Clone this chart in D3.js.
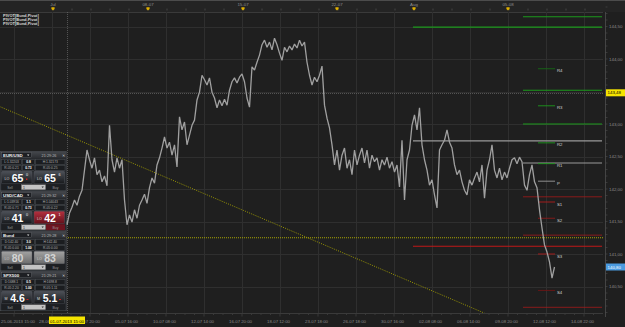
<!DOCTYPE html>
<html><head><meta charset="utf-8">
<script src="https://cdn.jsdelivr.net/npm/d3@7"></script>
<style>html,body{margin:0;padding:0;background:#1f1f1f;overflow:hidden}svg{display:block;font-family:"Liberation Sans",Arial,sans-serif}</style>
</head><body><svg id="c" width="625" height="327"></svg>
<script>
// ---------------- DATA ----------------
const prices = [141.49,141.55,141.45,141.63,141.72,141.83,141.75,141.89,141.98,142.29,
142.60,142.45,142.32,142.48,142.22,142.29,142.11,142.20,142.05,142.98,
142.45,142.26,142.48,142.32,142.45,141.83,141.45,141.60,141.49,141.68,
141.55,141.75,141.83,141.92,141.78,142.02,142.17,142.09,142.37,142.48,
142.63,142.80,142.63,142.72,142.52,142.68,142.34,143.11,142.91,143.03,
142.68,142.83,142.98,143.06,143.37,143.49,143.75,143.68,143.60,143.71,
143.49,143.40,143.25,143.37,143.28,143.38,143.29,143.52,143.65,143.71,
143.63,143.72,143.77,143.65,143.40,143.26,143.88,143.83,143.95,144.06,
144.22,144.29,144.18,144.26,144.14,144.32,144.22,144.09,143.98,144.18,
144.11,144.20,144.14,144.23,144.17,144.29,144.20,144.26,143.95,143.75,
143.60,143.72,143.65,143.75,143.89,143.29,143.09,142.94,142.68,142.37,
142.60,142.29,142.52,142.63,142.32,142.45,142.22,142.60,142.37,142.52,
142.63,142.40,142.60,142.32,142.52,142.42,142.48,142.29,142.45,142.37,
142.49,142.32,142.42,142.26,142.37,142.03,142.75,141.83,142.45,142.60,
142.98,143.14,142.91,143.25,142.68,142.45,142.29,142.06,142.14,141.91,
141.71,142.60,142.68,142.75,142.91,142.72,142.63,142.37,142.22,142.29,
142.11,141.98,141.91,142.14,142.06,142.17,142.26,142.11,142.37,141.86,
142.29,142.45,142.68,142.29,142.17,142.32,142.14,142.26,142.17,142.32,
142.45,142.48,142.39,142.49,142.42,142.06,141.98,142.22,142.37,142.11,
142.02,141.68,141.40,141.14,141.03,140.88,140.63,140.80];

const priceTicks = [144.5,144.0,143.5,143.0,142.5,142.0,141.5,141.0,140.5];
const gridBars = [-19.2,-4,11.2,26.4,41.6,56.8,72,87.2,102.4,117.6,132.8,148,163.2,178.4,193.6,208.8];
const bottomLabels = ["25-06-2013 15:00","28-06 20:00","02-07 20:00","05-07 16:00","10-07 08:00","12-07 14:00","16-07 20:00","18-07 12:00","23-07 18:00","26-07 18:00","30-07 16:00","02-08 08:00","06-08 14:00","09-08 20:00","12-08 12:00","14-08 22:00"];
const topLabels = ["Jul","08-07","15-07","22-07","Aug","05-08"];
const topLabelBars = [-3.6,34.4,72.4,110,140.8,178.4];

const monthlyLevels = [144.49,142.74,141.12];
const monthlyKinds  = ["R","P","S"];
const weeklyLevels  = [144.65,143.52,143.00,142.40,141.88,141.29,140.18];
const weeklyKinds   = ["R","R","R","P","S","S","S"];
const dailyNames    = ["R4","R3","R2","R1","P","S1","S2","S3","S4"];
const dailyLevels   = [143.85,143.28,142.71,142.39,142.12,141.80,141.55,141.00,140.44];
const trendBars   = [-25,169];
const trendPrices = [143.27,140.09];
const hLinePrice  = 141.25;
const crossBar = 2, crossPrice = 143.48, crossTime = "01-07-2013 15:00";
const lastPrice = 140.80;
const legend = ["PIVOT[Bund,Pivot]","PIVOT[Bund,Pivot]","PIVOT[Bund,Pivot]"];

const pairs   = ["EUR/USD","USD/CAD","Bund","SPX500"];
const times   = ["21:29:26","21:29:32","21:29:28","21:29:21"];
const row1    = [["L:1.32203","0.8","H:1.32173"],["L:1.03916","1.1","H:1.04043"],["D:142.40","3.0","H:142.40"],["D:1688.1","0.5","H:1698.8"]];
const row2    = [["R-05:0.21","0.73","R-05:0.25"],["R-05:0.71","0.73","R-05:0.22"],["R-05:0.00","1.00","R-05:0.00"],["R-05:2.20","1.00","R-05:1.11"]];
const bidBig  = ["65","41","80","4.6"];
const askBig  = ["65","42","83","5.1"];
const bidSup  = ["0","0","",""];
const askSup  = ["6","1","",""];
const prefix  = ["LO","LO","LO","M"];
const styles  = [["dark","dark"],["dark","red"],["grey","grey"],["dark","dark"]];

// ---------------- SCALES ----------------
const svg = d3.select("#c");
const x = d3.scaleLinear().domain([0,100]).range([62,312]);
const y = d3.scaleLinear().domain([140.5,144]).range([286.5,59]);
const PR = 603, PT = 12, PB = 313;
const fmt = v => d3.format(".2f")(v).replace(".",",");

const defs = svg.append("defs");
function grad(id, c1, c2){
  const g = defs.append("linearGradient").attr("id",id).attr("x1",0).attr("y1",0).attr("x2",0).attr("y2",1);
  g.append("stop").attr("offset","0%").attr("stop-color",c1);
  g.append("stop").attr("offset","100%").attr("stop-color",c2);
}
grad("gdark","#4d5158","#17191c");
grad("gred","#b5303f","#62101a");
grad("ggrey","#a3a3a3","#6c6c6c");
grad("ghead","#45484d","#2a2c30");
defs.append("clipPath").attr("id","plotclip").append("rect").attr("x",0).attr("y",PT).attr("width",PR).attr("height",PB-PT);

// background
svg.append("rect").attr("width",625).attr("height",327).attr("fill","#1f1f1f");
svg.append("rect").attr("width",625).attr("height",PT).attr("fill","#242424");
svg.append("line").attr("x1",0).attr("x2",625).attr("y1",0.5).attr("y2",0.5).attr("stroke","#4c4c4c");
svg.append("line").attr("x1",0).attr("x2",PR).attr("y1",PT+0.5).attr("y2",PT+0.5).attr("stroke","#3a3a3a");
svg.append("line").attr("x1",0).attr("x2",PR).attr("y1",PB+0.5).attr("y2",PB+0.5).attr("stroke","#3a3a3a");
svg.append("line").attr("x1",PR+2.5).attr("x2",PR+2.5).attr("y1",PT).attr("y2",PB+4).attr("stroke","#444");

// grid
const plot = svg.append("g").attr("clip-path","url(#plotclip)");
plot.selectAll(".vg").data(gridBars).join("line")
  .attr("x1",d=>Math.round(x(d))+0.5).attr("x2",d=>Math.round(x(d))+0.5)
  .attr("y1",PT).attr("y2",PB).attr("stroke","#2f2f2f");
plot.selectAll(".hg").data(priceTicks).join("line")
  .attr("x1",0).attr("x2",PR).attr("y1",d=>Math.round(y(d))+0.5).attr("y2",d=>Math.round(y(d))+0.5)
  .attr("stroke","#2f2f2f");

// top axis ticks and labels
const topTicks = d3.range(-3.6, 216, 7.6);
svg.selectAll(".tt").data(topTicks).join("line")
  .attr("x1",d=>x(d)).attr("x2",d=>x(d)).attr("y1",8.5).attr("y2",10.5).attr("stroke","#5a5a5a").attr("stroke-width",0.6);
svg.selectAll(".tl").data(topLabels).join("text")
  .attr("x",(d,i)=>x(topLabelBars[i])).attr("y",6).attr("text-anchor","middle")
  .attr("font-size",4.4).attr("fill","#8c8c8c").text(d=>d);
svg.selectAll(".tm").data(topLabelBars).join("path")
  .attr("d",d=>{const cx=x(d);return `M${cx-1.6},7.3 h3.2 v1.6 l-1.6,1.6 l-1.6,-1.6 z`;})
  .attr("fill","#e0b000");

// bottom axis
const botTicks = d3.range(-19.2, 216, 3.8);
svg.selectAll(".bt").data(botTicks).join("line")
  .attr("x1",d=>x(d)).attr("x2",d=>x(d)).attr("y1",PB+1).attr("y2",(d,i)=>PB+(i%4===0?3.5:2))
  .attr("stroke","#4a4a4a").attr("stroke-width",0.6);
svg.selectAll(".bl").data(bottomLabels).join("text")
  .attr("x",(d,i)=> i===0 ? 1 : x(gridBars[i])-1.5).attr("y",323)
  .attr("text-anchor",(d,i)=> i===0 ? "start":"middle")
  .attr("font-size",4.3).attr("fill","#8a8a8a").text(d=>d);

// right axis
const minor = d3.range(140.1,144.95,0.1);
svg.selectAll(".rm").data(minor).join("line")
  .attr("x1",PR+2.5).attr("x2",PR+4.5).attr("y1",d=>y(d)).attr("y2",d=>y(d)).attr("stroke","#555").attr("stroke-width",0.5);
svg.selectAll(".rl").data(priceTicks).join("text")
  .attr("x",PR+6).attr("y",d=>y(d)+1.6).attr("font-size",4.4).attr("fill","#8c8c8c").text(d=>fmt(d));

// legend
svg.selectAll(".lg").data(legend).join("text")
  .attr("x",3).attr("y",(d,i)=>16.5+i*4.3).attr("font-size",4).attr("font-weight","bold").attr("fill","#d8d8d8").text(d=>d);

// horizontal yellow dotted line and trend line
plot.append("line").attr("x1",0).attr("x2",PR).attr("y1",y(hLinePrice)).attr("y2",y(hLinePrice))
  .attr("stroke","#b8b400").attr("stroke-width",0.9).attr("stroke-dasharray","1,1");
plot.append("line").attr("x1",x(trendBars[0])).attr("x2",x(trendBars[1]))
  .attr("y1",y(trendPrices[0])).attr("y2",y(trendPrices[1]))
  .attr("stroke","#a8a400").attr("stroke-width",0.9).attr("stroke-dasharray","1,1.3");

// crosshair
plot.append("line").attr("x1",Math.round(x(crossBar))+0.5).attr("x2",Math.round(x(crossBar))+0.5).attr("y1",PT).attr("y2",PB)
  .attr("stroke","#6a6a6a").attr("stroke-width",0.7).attr("stroke-dasharray","1,1");
plot.append("line").attr("x1",0).attr("x2",PR).attr("y1",Math.round(y(crossPrice))+0.5).attr("y2",Math.round(y(crossPrice))+0.5)
  .attr("stroke","#6a6a6a").attr("stroke-width",0.7).attr("stroke-dasharray","1,1");

// pivots
const kindColor = {R:"#1c9a1c",P:"#9a9a9a",S:"#a51a1a"};
plot.selectAll(".mp").data(monthlyLevels).join("line")
  .attr("x1",x(140.4)).attr("x2",x(216)).attr("y1",d=>y(d)).attr("y2",d=>y(d))
  .attr("stroke",(d,i)=>monthlyKinds[i]==="S"?"#c01818":kindColor[monthlyKinds[i]]).attr("stroke-width",1.1);
plot.selectAll(".wp").data(weeklyLevels).join("line")
  .attr("x1",x(184.4)).attr("x2",x(216)).attr("y1",d=>y(d)).attr("y2",d=>y(d))
  .attr("stroke",(d,i)=>kindColor[weeklyKinds[i]]).attr("stroke-width",(d,i)=>weeklyKinds[i]==="S"?0.8:1.1);
const dailyColors = ["#156a15","#1c9a1c","#1c9a1c","#1c9a1c","#9a9a9a","#b01c1c","#8c1a1a","#b01c1c","#6e1414"];
plot.selectAll(".dp").data(dailyLevels).join("line")
  .attr("x1",x(190.4)).attr("x2",x(197.2)).attr("y1",d=>y(d)).attr("y2",d=>y(d))
  .attr("stroke",(d,i)=>dailyColors[i]).attr("stroke-width",0.9);
plot.selectAll(".dl").data(dailyNames).join("text")
  .attr("x",x(198)).attr("y",(d,i)=>y(dailyLevels[i])+3.5).attr("font-size",4.3).attr("fill","#d0d0d0").text(d=>d);

// price line
plot.append("path").datum(prices)
  .attr("d",d3.line().x((d,i)=>x(i)).y(d=>y(d)))
  .attr("fill","none").attr("stroke","#a0a0a0").attr("stroke-width",1.3).attr("stroke-linejoin","bevel");

// axis highlight labels
svg.append("rect").attr("x",PR+3).attr("y",y(crossPrice)-3.5).attr("width",19).attr("height",7).attr("fill","#f5e400");
svg.append("text").attr("x",PR+4.5).attr("y",y(crossPrice)+1.6).attr("font-size",4.4).attr("fill","#000").text(fmt(crossPrice));
svg.append("rect").attr("x",PR+3).attr("y",y(lastPrice)-3.5).attr("width",19).attr("height",7).attr("fill","#4b9be0");
svg.append("text").attr("x",PR+4.5).attr("y",y(lastPrice)+1.6).attr("font-size",4.4).attr("fill","#fff").text(fmt(lastPrice));
svg.append("rect").attr("x",x(crossBar)-18).attr("y",PB+3.5).attr("width",36).attr("height",7.5).attr("fill","#f5e400");
svg.append("text").attr("x",x(crossBar)).attr("y",323).attr("text-anchor","middle").attr("font-size",4.3).attr("fill","#000").text(crossTime);

// ---------------- LEFT TRADING PANEL ----------------
const tops = [151,191,231,271];
function widget(k){
  const g = svg.append("g").attr("transform",`translate(0,${tops[k]})`);
  g.append("rect").attr("x",0.25).attr("y",0.25).attr("width",66).attr("height",39.5).attr("fill","#26292d").attr("stroke","#50545a").attr("stroke-width",0.5);
  g.append("rect").attr("x",0.5).attr("y",0.5).attr("width",65.5).attr("height",7).attr("fill","url(#ghead)");
  g.append("rect").attr("x",1.5).attr("y",1.3).attr("width",30).attr("height",5.4).attr("fill","#1d1f23").attr("stroke","#6a6d72").attr("stroke-width",0.4);
  g.append("text").attr("x",3).attr("y",5.6).attr("font-size",4.4).attr("font-weight","bold").attr("fill","#f0f0f0").text(pairs[k]);
  g.append("path").attr("d","M27,3.4 h2.4 l-1.2,1.6 z").attr("fill","#ddd");
  g.append("text").attr("x",49).attr("y",5.5).attr("text-anchor","middle").attr("font-size",3.8).attr("fill","#b8b8b8").text(times[k]);
  g.append("text").attr("x",62).attr("y",5.6).attr("font-size",4).attr("fill","#ccc").text("✕");
  const boxes = [[1.5,20],[22.5,12],[35.5,29.5]];
  [row1[k],row2[k]].forEach((row,r)=>{
    row.forEach((t,j)=>{
      const [bx,bw] = boxes[j];
      g.append("rect").attr("x",bx).attr("y",8.5+r*5.8).attr("width",bw).attr("height",5).attr("fill","#1b1d20").attr("stroke","#55595e").attr("stroke-width",0.4);
      g.append("text").attr("x",bx+bw/2).attr("y",12.2+r*5.8).attr("text-anchor","middle").attr("font-size",3.3).attr("fill",j===1?"#ffffff":"#b0b0b0").attr("font-weight",j===1?"bold":"normal").text(t);
    });
  });
  const sides = [[1.5,bidBig[k],bidSup[k],styles[k][0]],[34,askBig[k],askSup[k],styles[k][1]]];
  sides.forEach(([bx,big,sup,st])=>{
    g.append("rect").attr("x",bx).attr("y",20.3).attr("width",30.5).attr("height",12.4).attr("rx",1)
      .attr("fill",st==="red"?"url(#gred)":st==="grey"?"url(#ggrey)":"url(#gdark)").attr("stroke","#5a5e64").attr("stroke-width",0.4);
    const tc = st==="grey" ? "#d4d4d4" : "#ffffff";
    g.append("text").attr("x",bx+3).attr("y",29).attr("font-size",3.6).attr("fill",st==="grey"?"#ccc":"#ddd").text(prefix[k]);
    g.append("text").attr("x",bx+16).attr("y",30.6).attr("text-anchor","middle").attr("font-size",10.5).attr("font-weight","bold").attr("fill",tc).text(big);
    if(sup) g.append("text").attr("x",bx+24.5).attr("y",25).attr("font-size",3.8).attr("fill","#eee").text(sup);
    if(k===0 && bx<10) g.append("rect").attr("x",bx+24.5).attr("y",27.5).attr("width",1.4).attr("height",1.4).attr("fill","#e02020");
    if(k===3) g.append("rect").attr("x",bx+25).attr("y",28).attr("width",2).attr("height",0.9).attr("fill","#e02020");
  });
  g.append("rect").attr("x",1.5).attr("y",33.2).attr("width",63.5).attr("height",6).attr("fill","#1d1f22");
  if(styles[k][1]==="red") g.append("rect").attr("x",46).attr("y",33.2).attr("width",19).attr("height",6).attr("fill","#6e1420");
  g.append("text").attr("x",10).attr("y",37.6).attr("text-anchor","middle").attr("font-size",3.4).attr("fill","#9a9a9a").text("Sell");
  g.append("text").attr("x",55.5).attr("y",37.6).attr("text-anchor","middle").attr("font-size",3.4).attr("fill","#9a9a9a").text("Buy");
  g.append("rect").attr("x",21.5).attr("y",33.8).attr("width",24).attr("height",4.8).attr("fill","#c4c4c4").attr("stroke","#888").attr("stroke-width",0.3);
  g.append("text").attr("x",23).attr("y",37.6).attr("font-size",3.4).attr("fill","#222").text("1");
  g.append("path").attr("d","M41.5,35.4 h2.4 l-1.2,1.5 z").attr("fill","#333");
}
d3.range(4).forEach(widget);
</script>
</body></html>
